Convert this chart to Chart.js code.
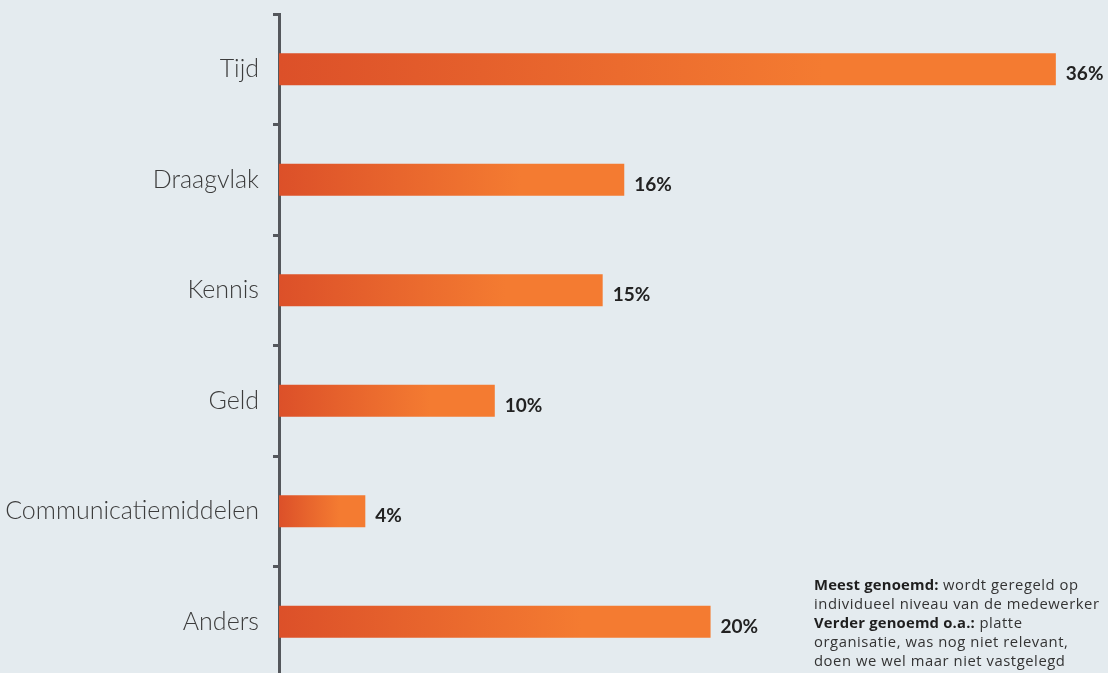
<!DOCTYPE html>
<html>
<head>
<meta charset="utf-8">
<script src="https://cdn.jsdelivr.net/npm/chart.js@4/dist/chart.umd.min.js"></script>
<style>
  html, body { margin: 0; padding: 0; background: #e4ebef; overflow: hidden; }
  #wrap { position: relative; width: 1108px; height: 680px; }
  #note {
    position: absolute; left: 814px; top: 575px; white-space: nowrap;
    font-family: "Open Sans", sans-serif; font-size: 14.8px; line-height: 19px;
    letter-spacing: 0.55px; color: #333;
  }
  #note b { color: #1e1e1e; letter-spacing: 0.2px; }
</style>
</head>
<body>
<div id="wrap">
  <canvas id="canvasBarriers" width="1108" height="680"></canvas>
  <div id="note">
    <b>Meest genoemd:</b> wordt geregeld op<br>
    individueel niveau van de medewerker<br>
    <b>Verder genoemd o.a.:</b> platte<br>
    organisatie, was nog niet relevant,<br>
    doen we wel maar niet vastgelegd
  </div>
</div>
<script>
"use strict";

var categories = ['Tijd', 'Draagvlak', 'Kennis', 'Geld', 'Communicatiemiddelen', 'Anders'];
var percentages = [36, 16, 15, 10, 4, 20];

// each bar fades from red-orange to orange over its own length
function barGradient(context) {
    var chart = context.chart;
    var xScale = chart.scales.x;
    if (!xScale || context.type !== 'data') {
        return '#f47b30';
    }
    var x0 = xScale.getPixelForValue(0);
    var x1 = xScale.getPixelForValue(context.raw);
    if (!isFinite(x0) || !isFinite(x1) || x1 <= x0) {
        return '#f47b30';
    }
    var gradient = chart.ctx.createLinearGradient(x0, 0, x1, 0);
    gradient.addColorStop(0, '#dc5029');
    gradient.addColorStop(0.7, '#f47b31');
    gradient.addColorStop(1, '#f47b31');
    return gradient;
}

function eachItem(list, fn) {
    for (var i = 0; i < list.length; i++) {
        fn(i, list[i]);
    }
}

var valueLabels = {
    id: 'valueLabels',
    afterDatasetsDraw: function (chart) {
        var ctx = chart.ctx;
        var meta = chart.getDatasetMeta(0);
        ctx.save();
        ctx.font = 'bold 19px Lato, sans-serif';
        ctx.fillStyle = '#222';
        ctx.textAlign = 'left';
        ctx.textBaseline = 'middle';
        eachItem(meta.data, function (index, bar) {
            ctx.fillText(percentages[index] + '%', bar.x + 10, bar.y + 5);
        });
        ctx.restore();
    }
};

const context = document.getElementById('canvasBarriers');
const myChart = new Chart(context, {
    type: 'bar',
    data: {
        labels: categories,
        datasets: [{
            data: percentages,
            backgroundColor: barGradient,
            borderWidth: 0,
            barPercentage: 0.29,
            categoryPercentage: 1
        }]
    },
    plugins: [valueLabels],
    options: {
        indexAxis: 'y',
        responsive: false,
        animation: false,
        layout: {
            padding: { top: 14, bottom: 3, right: 9, left: 0 }
        },
        plugins: {
            legend: { display: false },
            tooltip: { enabled: false }
        },
        scales: {
            x: {
                display: false,
                min: 0,
                max: 38
            },
            y: {
                afterFit: function (scale) {
                    scale.width = 279;
                    scale.paddingTop = 0;
                    scale.paddingBottom = 0;
                },
                border: { color: '#54575c', width: 3 },
                grid: {
                    offset: true,
                    drawOnChartArea: false,
                    drawTicks: true,
                    tickLength: 6,
                    color: '#54575c',
                    lineWidth: 3
                },
                ticks: {
                    color: '#3c3c3c',
                    padding: 14,
                    font: { family: 'Lato', size: 25, weight: '300' }
                }
            }
        }
    }
});
myChart.update();
</script>
</body>
</html>
